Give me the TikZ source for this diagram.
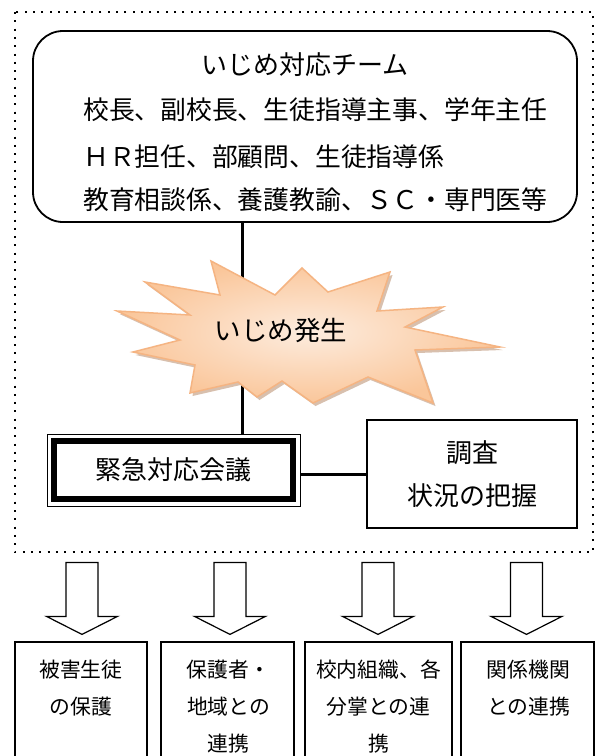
\documentclass[tikz,border=0pt]{standalone}
\usepackage{fontspec}
\newfontfamily\jp{Noto Sans CJK JP}
\definecolor{burstin}{RGB}{253,236,222}
\definecolor{burstout}{RGB}{250,198,154}
\definecolor{burstedge}{RGB}{245,180,130}
\definecolor{burstshadow}{RGB}{190,150,120}
\begin{document}
\begin{tikzpicture}[x=1pt,y=-1pt,
  conn/.style={line width=3pt},
  frame/.style={line width=2pt, dash pattern=on 2pt off 6.3pt},
  teambox/.style={draw, line width=1.8pt, rounded corners=30pt, inner sep=0pt},
  plainbox/.style={draw, line width=1.2pt, inner sep=0pt},
  titletext/.style={font=\jp\fontsize{26}{30}\selectfont, inner sep=0pt},
  bodytext/.style={font=\jp\fontsize{25.8}{30}\selectfont, inner sep=0pt, anchor=west},
  bigtext/.style={font=\jp\fontsize{26}{43}\selectfont, align=center},
  smalltext/.style={font=\jp\fontsize{20.8}{37}\selectfont, align=center, inner sep=0pt},
  blockarr/.style={draw, line width=1.2pt, fill=white, line join=miter}
]
\clip (0,0) rectangle (595,756);
\fill[white] (0,0) rectangle (595,756);
\draw[frame] (15,12) rectangle (593,552);

% team box
\node[teambox, minimum width=544pt, minimum height=191pt] (team) at (305,126.5) {};
\node[titletext] (title) at (305,65) {いじめ対応チーム};
\node[bodytext] (m1) at (83,110) {校長、副校長、生徒指導主事、学年主任};
\node[bodytext] (m2) at (83,157) {ＨＲ担任、部顧問、生徒指導係};
\node[bodytext] (m3) at (83,200) {教育相談係、養護教諭、ＳＣ・専門医等};

% meeting box
\node[draw, line width=1pt, minimum width=253pt, minimum height=72pt, inner sep=0pt,
      font=\jp\fontsize{26}{30}\selectfont] (meet) at (173.5,470) {緊急対応会議};
\draw[line width=6pt] ([shift={(7.5,7.5)}]meet.north west) rectangle ([shift={(-7.5,-7.5)}]meet.south east);

% survey box
\node[plainbox, bigtext, minimum width=210pt, minimum height=108pt] (survey) at (472,474) {調査\\状況の把握};

% connectors
\coordinate (jx) at (242,300);
\draw[conn] (team.south -| jx) -- (meet.north -| jx);
\draw[conn] (meet.east |- survey.west) -- (survey.west);

% starburst
\def\burst{(220,295) -- (211,261) -- (275,295) -- (302,268) -- (328,292) -- (390,272) -- (377,311) -- (443,307) -- (405,327) -- (500,347) -- (415,350) -- (433,403) -- (368,377) -- (313,403) -- (282,381) -- (257,397) -- (238,382) -- (190,393) -- (195,365) -- (133,352) -- (180,340) -- (117,311) -- (190,315) -- (145,282) -- cycle}
\fill[burstshadow, opacity=0.6, shift={(2.5,3)}] \burst;
\path[draw=burstedge, line width=1.5pt, line join=miter, inner color=burstin, outer color=burstout] \burst;
\node[font=\jp\fontsize{26.5}{30}\selectfont, inner sep=0pt] (burst) at (281,330) {いじめ発生};

% bottom boxes
\node[plainbox, minimum width=132pt, minimum height=120pt] (b1) at (81,702) {};
\node[plainbox, minimum width=133pt, minimum height=120pt] (b2) at (227.5,702) {};
\node[plainbox, minimum width=147pt, minimum height=120pt] (b3) at (378.5,702) {};
\node[plainbox, minimum width=133pt, minimum height=120pt] (b4) at (527.5,702) {};
\node[smalltext] (t1) at (81,688.5) {被害生徒\\の保護};
\node[smalltext] (t2) at (228.5,707) {保護者・\\地域との\\連携};
\node[smalltext] (t3) at (378.5,707) {校内組織、各\\分掌との連\\携};
\node[smalltext] (t4) at (528.5,688.5) {関係機関\\との連携};

% block arrows
\foreach \b/\dx in {b1/1,b2/2.5,b3/-0.5,b4/-1}{
  \draw[blockarr] ([xshift=\dx pt, yshift=7pt]\b.north) -- ++(-35.5,-18) -- ++(19.5,0) -- ++(0,-54)
     -- ++(32,0) -- ++(0,54) -- ++(19.5,0) -- cycle;
}
\end{tikzpicture}
\end{document}
